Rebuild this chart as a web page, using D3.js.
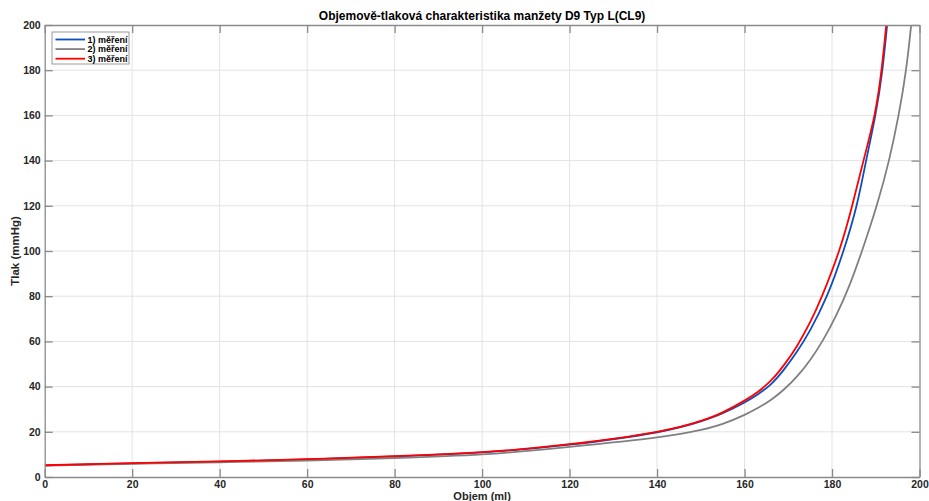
<!DOCTYPE html>
<html>
<head>
<meta charset="utf-8">
<script src="https://cdn.jsdelivr.net/npm/d3@7"></script>
<style>
  html, body { margin: 0; padding: 0; background: #fff; }
  svg { display: block; font-family: "Liberation Sans", Arial, Helvetica, sans-serif; }
</style>
</head>
<body>
<svg id="chart" width="929" height="501"></svg>
<script>
// Volume (ml) / pressure (mmHg) readings for the three cuff measurements
const vol1  = [0, 20, 40, 60, 80, 100, 120, 140, 150, 155, 160, 163, 166, 169, 172, 175, 178.8, 182.6, 185.6, 187.8, 189.9, 191.5, 192.6, 193.2];
const pres1 = [5.1, 6.0, 6.8, 7.8, 9.1, 10.9, 14.3, 19.8, 24.6, 28.2, 33.0, 36.5, 41.0, 47.5, 55.5, 65.0, 80, 100, 120, 140, 160, 180, 200, 212];

const vol2  = [0, 20, 40, 60, 80, 100, 120, 140, 150, 155, 160, 163, 166, 169, 172, 175, 178, 181, 184, 187, 190.2, 193.0, 195.2, 196.9, 198.1, 198.7];
const pres2 = [5.0, 5.8, 6.5, 7.3, 8.4, 10.0, 13.3, 17.5, 20.8, 23.5, 27.5, 30.5, 34.1, 38.7, 44.5, 51.8, 60.8, 71.7, 84.9, 100.9, 120, 140, 160, 180, 200, 212];

const vol3  = [0, 20, 40, 60, 80, 100, 120, 140, 150, 155, 160, 163, 166, 169, 172, 175, 177.7, 181.6, 184.6, 187.2, 189.7, 191.3, 192.4, 192.9];
const pres3 = [5.2, 6.1, 6.9, 7.9, 9.2, 11.0, 14.5, 20.0, 24.8, 28.6, 33.8, 37.6, 42.6, 49.5, 58.0, 68.5, 80, 100, 120, 140, 160, 180, 200, 210];

const seriesNames  = ["1) měření", "2) měření", "3) měření"];
const seriesColors = ["#0a4fc0", "#808080", "#ff0000"];

const xTicks = [0, 20, 40, 60, 80, 100, 120, 140, 160, 180, 200];
const yTicks = [0, 20, 40, 60, 80, 100, 120, 140, 160, 180, 200];

const titleText = "Objemově-tlaková charakteristika manžety D9 Typ L(CL9)";
const xLabel = "Objem (ml)";
const yLabel = "Tlak (mmHg)";

const series = [
  { name: seriesNames[0], color: seriesColors[0], pts: vol1.map((v, i) => [v, pres1[i]]) },
  { name: seriesNames[1], color: seriesColors[1], pts: vol2.map((v, i) => [v, pres2[i]]) },
  { name: seriesNames[2], color: seriesColors[2], pts: vol3.map((v, i) => [v, pres3[i]]) }
];

const svg = d3.select("#chart");
const L = 44.7, R = 919.5, T = 25, B = 477;
const x = d3.scaleLinear().domain([0, 200]).range([L, R]);
const y = d3.scaleLinear().domain([0, 200]).range([B, T]);

// grid
const grid = svg.append("g");
grid.selectAll("line.gx").data(xTicks.slice(1, -1)).join("line")
  .attr("x1", d => x(d)).attr("x2", d => x(d)).attr("y1", T).attr("y2", B)
  .attr("stroke", "#e3e3e3").attr("stroke-width", 1);
grid.selectAll("line.gy").data(yTicks.slice(1, -1)).join("line")
  .attr("x1", L).attr("x2", R).attr("y1", d => y(d)).attr("y2", d => y(d))
  .attr("stroke", "#e3e3e3").attr("stroke-width", 1);

// curves, clipped to the axes box
svg.append("clipPath").attr("id", "plotclip").append("rect")
  .attr("x", L).attr("y", T).attr("width", R - L).attr("height", B - T);

const line = d3.line().x(d => x(d[0])).y(d => y(d[1])).curve(d3.curveNatural);
svg.append("g").attr("clip-path", "url(#plotclip)")
  .selectAll("path").data(series).join("path")
  .attr("d", d => line(d.pts))
  .attr("fill", "none")
  .attr("stroke", d => d.color)
  .attr("stroke-width", 1.8);

// axes: bottom/left with labels, top/right mirrored ticks, all pointing inward
const axisColor = "#8a8a8a";
const tickLen = 8;
const fmt = d3.format("d");
function styleAxis(g, showText) {
  g.select(".domain").attr("stroke", axisColor).attr("stroke-width", 1.3);
  g.selectAll(".tick line").attr("stroke", axisColor).attr("stroke-width", 1.3);
  g.selectAll(".tick text")
    .attr("fill", "#262626")
    .style("font-size", "10.5px")
    .style("font-weight", "bold")
    .style("display", showText ? null : "none");
}
svg.append("g").attr("transform", `translate(0,${B})`)
  .call(d3.axisBottom(x).tickValues(xTicks).tickFormat(fmt).tickSizeInner(-tickLen).tickSizeOuter(0).tickPadding(4))
  .call(g => styleAxis(g, true));
svg.append("g").attr("transform", `translate(0,${T})`)
  .call(d3.axisTop(x).tickValues(xTicks).tickSizeInner(-tickLen).tickSizeOuter(0))
  .call(g => styleAxis(g, false));
svg.append("g").attr("transform", `translate(${L},0)`)
  .call(d3.axisLeft(y).tickValues(yTicks).tickFormat(fmt).tickSizeInner(-tickLen).tickSizeOuter(0).tickPadding(4))
  .call(g => styleAxis(g, true));
svg.append("g").attr("transform", `translate(${R},0)`)
  .call(d3.axisRight(y).tickValues(yTicks).tickSizeInner(-tickLen).tickSizeOuter(0))
  .call(g => styleAxis(g, false));

// title and axis labels
svg.append("text").attr("x", (L + R) / 2).attr("y", 20)
  .attr("text-anchor", "middle").attr("fill", "#000")
  .style("font-size", "12px").style("font-weight", "bold")
  .text(titleText);
svg.append("text").attr("x", (L + R) / 2).attr("y", 499.5)
  .attr("text-anchor", "middle").attr("fill", "#262626")
  .style("font-size", "11px").style("font-weight", "bold")
  .text(xLabel);
svg.append("text")
  .attr("transform", `translate(19,${(T + B) / 2}) rotate(-90)`)
  .attr("text-anchor", "middle").attr("fill", "#262626")
  .style("font-size", "11.5px").style("font-weight", "bold")
  .text(yLabel);

// legend
const lg = svg.append("g").attr("transform", "translate(52,32)");
lg.append("rect").attr("width", 77).attr("height", 32)
  .attr("fill", "#fff").attr("stroke", "#9a9a9a").attr("stroke-width", 1);
const rows = lg.selectAll("g.row").data(series).join("g")
  .attr("transform", (d, i) => `translate(0,${7.5 + i * 9.6})`);
rows.append("line").attr("x1", 3.5).attr("x2", 33).attr("y1", 0).attr("y2", 0)
  .attr("stroke", d => d.color).attr("stroke-width", 1.8);
rows.append("text").attr("x", 35.5).attr("y", 3.3)
  .attr("fill", "#000").style("font-size", "9px").style("font-weight", "bold")
  .text(d => d.name);
</script>
</body>
</html>
